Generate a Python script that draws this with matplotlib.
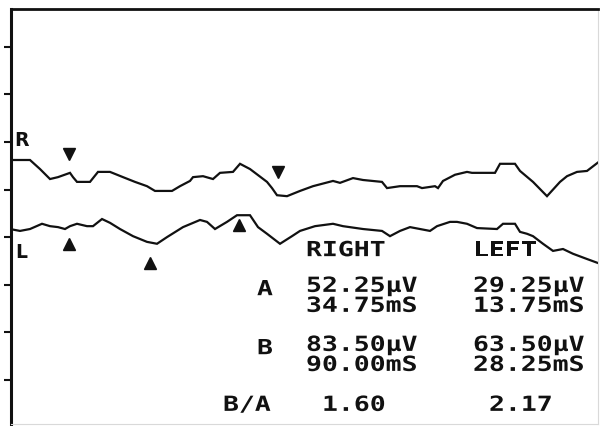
import matplotlib
matplotlib.use("Agg")
import matplotlib.pyplot as plt
import numpy as np
from matplotlib.patheffects import AbstractPathEffect
from matplotlib.transforms import Affine2D

# sweep position (samples) and amplitude (divisions) of the two traces
R_X = [0, 20, 30, 40, 48, 60, 63, 67, 80, 88, 100, 113, 125, 137, 145, 162, 170,
       180, 183, 193, 203, 210, 223, 230, 240, 257, 262, 267, 277, 290, 303, 323,
       330, 343, 353, 372, 377, 390, 407, 412, 425, 428, 433, 445, 457, 462, 485,
       490, 505, 510, 523, 537, 550, 557, 567, 577, 590]
R_Y = [5.62, 5.62, 5.43, 5.22, 5.26, 5.35, 5.26, 5.16, 5.16, 5.37, 5.37, 5.26,
       5.16, 5.07, 4.97, 4.97, 5.07, 5.18, 5.26, 5.28, 5.22, 5.35, 5.37, 5.54,
       5.43, 5.16, 5.03, 4.88, 4.86, 4.97, 5.07, 5.18, 5.14, 5.24, 5.20, 5.16,
       5.03, 5.07, 5.07, 5.03, 5.07, 5.03, 5.18, 5.31, 5.37, 5.35, 5.35, 5.54,
       5.54, 5.39, 5.16, 4.86, 5.16, 5.28, 5.37, 5.39, 5.60]

L_X = [0, 10, 20, 32, 40, 48, 55, 60, 67, 77, 83, 92, 100, 110, 123, 137, 147,
       157, 173, 190, 197, 205, 217, 227, 240, 248, 257, 270, 282, 290, 305, 323,
       333, 353, 372, 380, 390, 400, 420, 427, 440, 447, 457, 467, 487, 493, 505,
       510, 517, 523, 533, 543, 553, 563, 577, 590]
L_Y = [4.17, 4.13, 4.17, 4.28, 4.23, 4.21, 4.17, 4.23, 4.28, 4.23, 4.23, 4.38,
       4.30, 4.17, 4.02, 3.90, 3.86, 4.00, 4.21, 4.36, 4.32, 4.17, 4.32, 4.46,
       4.46, 4.21, 4.07, 3.86, 4.02, 4.13, 4.23, 4.28, 4.23, 4.17, 4.13, 4.02,
       4.13, 4.21, 4.13, 4.23, 4.32, 4.32, 4.28, 4.19, 4.17, 4.28, 4.28, 4.11,
       4.07, 4.02, 3.86, 3.71, 3.75, 3.65, 3.54, 3.44]

# cursor marks
R_MARK_X = [59, 268]
R_MARK_Y = [5.75, 5.37]
L_MARK_X = [59, 140, 229]
L_MARK_Y = [3.85, 3.46, 4.25]

ROW_NAMES = ["A", "B"]
RIGHT_AMP = ["52.25µV", "83.50µV"]
RIGHT_LAT = ["34.75mS", "90.00mS"]
LEFT_AMP = ["29.25µV", "63.50µV"]
LEFT_LAT = ["13.75mS", "28.25mS"]
RATIO_RIGHT = "1.60"
RATIO_LEFT = "2.17"

INK = "#111111"


class Widen(AbstractPathEffect):
    """Stretch glyphs sideways, like the wide printer font."""

    def __init__(self, sx):
        super().__init__()
        self.sx = sx

    def draw_path(self, renderer, gc, tpath, affine, rgbFace=None):
        renderer.draw_path(gc, tpath, Affine2D().scale(self.sx, 1.0) + affine, rgbFace)


def put(ax, x, y, s):
    ax.text(x, y, s, family="DejaVu Sans Mono", weight="bold", fontsize=15,
            color=INK, ha="left", va="baseline", linespacing=1.0,
            path_effects=[Widen(1.27)])


fig = plt.figure(figsize=(6.02, 4.27), dpi=100)
ax = fig.add_axes([11 / 602, 2 / 427, 587 / 602, 415 / 427])
ax.set_xlim(1, 588)
ax.set_ylim(0.074, 8.792)

ax.plot(R_X, R_Y, color=INK, lw=1.6, solid_joinstyle="miter")
ax.plot(L_X, L_Y, color=INK, lw=1.6, solid_joinstyle="miter")
ax.plot(R_MARK_X, R_MARK_Y, "v", color=INK, ms=8, ls="none")
ax.plot(L_MARK_X, L_MARK_Y, "^", color=INK, ms=8, ls="none")

ax.text(4, 5.93, "R", family="DejaVu Sans", weight="bold", fontsize=13.5,
        color=INK, ha="left", va="baseline")
ax.text(5, 3.58, "L", family="DejaVu Sans", weight="bold", fontsize=13.5,
        color=INK, ha="left", va="baseline")

# result table: amplitude over latency for each eye
# (multi-line text sits on the baseline of its last line)
col_r, col_l = 296, 463
put(ax, col_r, 3.60, "RIGHT")
put(ax, col_l, 3.60, "LEFT")
for i, (y_top, y_low) in enumerate([(2.78, 2.43), (1.54, 1.19)]):
    put(ax, 247, y_top, ROW_NAMES[i])
    put(ax, col_r, y_low, RIGHT_AMP[i] + "\n" + RIGHT_LAT[i])
    put(ax, col_l, y_low, LEFT_AMP[i] + "\n" + LEFT_LAT[i])
put(ax, 213, 0.35, "B/A")
put(ax, col_r + 16, 0.35, RATIO_RIGHT)
put(ax, col_l + 16, 0.35, RATIO_LEFT)

# frame: heavy left/top, faint right/bottom
ax.spines["left"].set_linewidth(2.2)
ax.spines["top"].set_linewidth(2.0)
for side in ("left", "top"):
    ax.spines[side].set_color(INK)
for side in ("right", "bottom"):
    ax.spines[side].set_color("#d9d9d9")
    ax.spines[side].set_linewidth(0.8)

ax.set_yticks(np.arange(1, 9))
ax.set_yticklabels([])
ax.set_xticks([])
ax.tick_params(axis="y", direction="out", length=5, width=1.5, color=INK)

fig.savefig("out.png", dpi=100)
